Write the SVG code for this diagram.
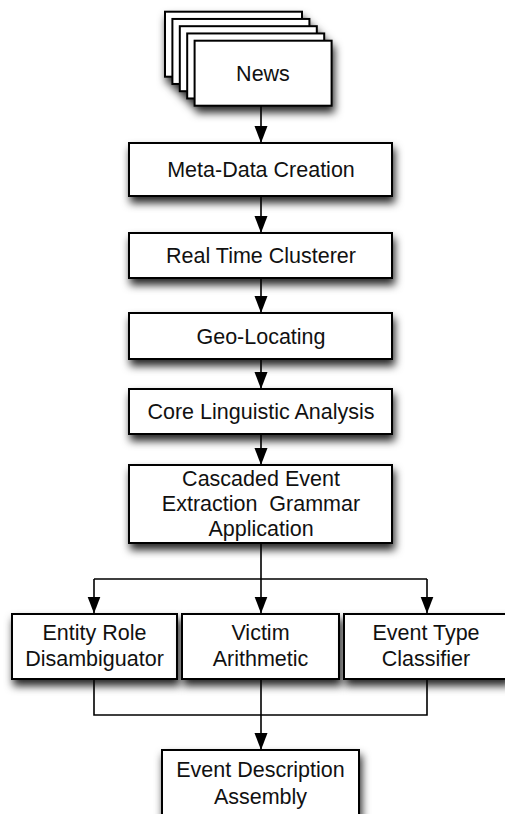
<svg xmlns="http://www.w3.org/2000/svg" width="505" height="814" viewBox="0 0 505 814">
<style>
.box{fill:#fff;stroke:#000;stroke-width:2;}
.t{font-family:"Liberation Sans",Arial,Helvetica,sans-serif;font-size:21.5px;fill:#111;text-anchor:middle;}
.c{fill:none;stroke:#000;stroke-width:1.6;}
</style>
<defs>
<filter id="sh" x="-20%" y="-30%" width="140%" height="170%">
<feDropShadow dx="2" dy="6" stdDeviation="4" flood-color="#000" flood-opacity="0.85"/>
</filter>
<marker id="ah" viewBox="0 -7 17 14" refX="17" refY="0" markerWidth="17" markerHeight="14" markerUnits="userSpaceOnUse" orient="auto">
<path d="M0,-6.5 L17,0 L0,6.5 z" fill="#000"/>
</marker>
</defs>

<g id="news">
<g filter="url(#sh)">
<rect class="box" x="165" y="11.7" width="137" height="65"/>
<rect class="box" x="172.4" y="18.95" width="137" height="65"/>
<rect class="box" x="179.8" y="26.2" width="137" height="65"/>
<rect class="box" x="187.2" y="33.45" width="137" height="65"/>
<rect class="box" x="194.6" y="40.7" width="137" height="65"/>
</g>
<text class="t" x="263" y="81">News</text>
</g>

<g id="connectors">
<path class="c" d="M261,106 V143" marker-end="url(#ah)"/>
<path class="c" d="M261,196 V233" marker-end="url(#ah)"/>
<path class="c" d="M261,278 V313" marker-end="url(#ah)"/>
<path class="c" d="M261,359 V389" marker-end="url(#ah)"/>
<path class="c" d="M261,434 V465" marker-end="url(#ah)"/>
<path class="c" d="M261,543 V579 M94,579 H427"/>
<path class="c" d="M94,579 V613.5" marker-end="url(#ah)"/>
<path class="c" d="M261,579 V613.5" marker-end="url(#ah)"/>
<path class="c" d="M427,579 V613.5" marker-end="url(#ah)"/>
<path class="c" d="M94,679 V715 H427 V679"/>
<path class="c" d="M261,679 V750" marker-end="url(#ah)"/>
</g>

<g id="meta">
<rect class="box" x="129" y="143" width="263" height="53" filter="url(#sh)"/>
<text class="t" x="261" y="177">Meta-Data Creation</text>
</g>
<g id="clusterer">
<rect class="box" x="129" y="233" width="263" height="45" filter="url(#sh)"/>
<text class="t" x="261" y="263">Real Time Clusterer</text>
</g>
<g id="geo">
<rect class="box" x="129" y="313" width="263" height="46" filter="url(#sh)"/>
<text class="t" x="261" y="343.5">Geo-Locating</text>
</g>
<g id="core">
<rect class="box" x="129" y="389" width="263" height="45" filter="url(#sh)"/>
<text class="t" x="261" y="419">Core Linguistic Analysis</text>
</g>
<g id="cascaded">
<rect class="box" x="129" y="465" width="263" height="78" filter="url(#sh)"/>
<text class="t" x="261" y="486">Cascaded Event</text>
<text class="t" x="261" y="511" xml:space="preserve">Extraction  Grammar</text>
<text class="t" x="261" y="536">Application</text>
</g>
<g id="entity">
<rect class="box" x="12" y="614" width="165" height="65" filter="url(#sh)"/>
<text class="t" x="94.5" y="640">Entity Role</text>
<text class="t" x="94.5" y="665.5">Disambiguator</text>
</g>
<g id="victim">
<rect class="box" x="182" y="614" width="157" height="65" filter="url(#sh)"/>
<text class="t" x="260.5" y="640">Victim</text>
<text class="t" x="260.5" y="665.5">Arithmetic</text>
</g>
<g id="eventtype">
<rect class="box" x="344" y="614" width="164" height="65" filter="url(#sh)"/>
<text class="t" x="426" y="640">Event Type</text>
<text class="t" x="426" y="665.5">Classifier</text>
</g>
<g id="assembly">
<rect class="box" x="162" y="750" width="197" height="80" filter="url(#sh)"/>
<text class="t" x="260.5" y="777">Event Description</text>
<text class="t" x="260.5" y="803.5">Assembly</text>
</g>
</svg>
